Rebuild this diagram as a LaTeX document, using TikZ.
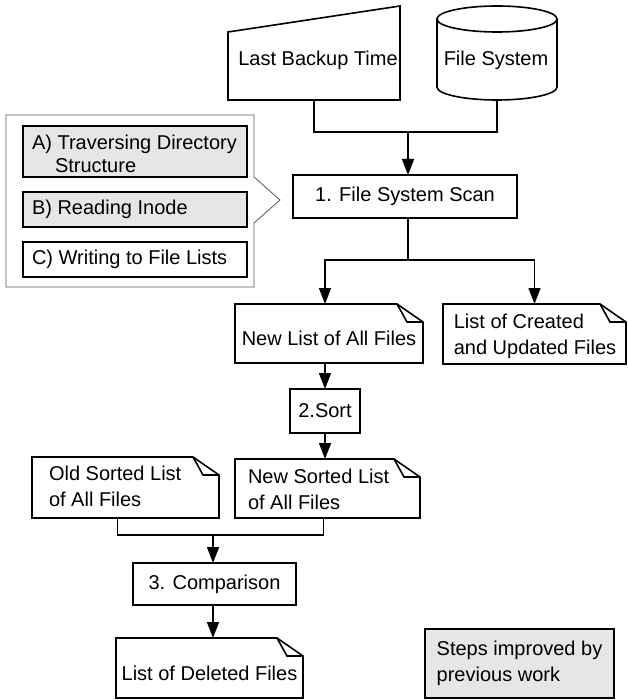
\documentclass[tikz,border=0pt]{standalone}
\usepackage{fontspec}
\setmainfont{Liberation Sans}
\usetikzlibrary{arrows.meta,calc}
\definecolor{boxgray}{HTML}{E6E6E6}
\definecolor{callgray}{HTML}{555555}
\newcommand\notedraw[1]{%
  \draw[conn] (#1.north west) -- ($(#1.north east)+(-26,0)$) -- ($(#1.north east)+(0,18)$) -- (#1.south east) -- (#1.south west) -- cycle;
  \draw[conn] ($(#1.north east)+(-26,0)$) -- ($(#1.north east)+(-16,18)$) -- ($(#1.north east)+(0,18)$);}
\begin{document}
\begin{tikzpicture}[x=1pt,y=-1pt,
  lbl/.style={font=\fontsize{20}{25.5}\selectfont, inner sep=0pt, outer sep=0pt, align=left},
  frame/.style={rectangle, inner sep=0pt, outer sep=0pt, draw=none},
  box/.style={frame, draw, line width=1.6pt, fill=white, font=\fontsize{20}{25.5}\selectfont, align=left},
  graybox/.style={box, fill=boxgray},
  conn/.style={line width=1.6pt, line join=miter},
  arr/.style={conn, -{Triangle[length=16pt,width=12pt]}}
]
\useasboundingbox (0,0) rectangle (627,700);

% ---- Inputs ----
\node[frame, minimum width=172pt, minimum height=94pt] (lbt) at (314,53) {};
\draw[conn] ($(lbt.north west)+(0,26)$) -- (lbt.north east) -- (lbt.south east) -- (lbt.south west) -- cycle;
\node[lbl] (lbt-t) at (318,60) {Last Backup Time};

\node[frame, minimum width=120pt, minimum height=94pt] (fs) at (497,53) {};
\draw[conn] ($(fs.north west)+(0,13)$) -- ($(fs.south west)+(0,-13)$)
  arc[start angle=180, end angle=360, x radius=60pt, y radius=13pt] -- ($(fs.north east)+(0,13)$);
\draw[conn] ($(fs.north)+(0,13)$) ellipse[x radius=60pt, y radius=13pt];
\node[lbl] (fs-t) at (496,60) {File System};

% ---- Step 1 ----
\node[box, minimum width=224pt, minimum height=43pt] (scan) at (405,196.5) {1. File System Scan};

% ---- Callout with sub-steps ----
\node[frame, minimum width=248pt, minimum height=172pt] (callout) at (130,201) {};
\coordinate (tip) at (280,200);
\draw[callgray, line width=0.8pt] (callout.north west) -- (callout.north east) -- ($(callout.north east)+(0,62)$) -- (tip) -- ($(callout.north east)+(0,108)$) -- (callout.south east) -- (callout.south west) -- cycle;
\node[graybox, minimum width=224pt, minimum height=51pt] (sa) at (135,151.5) {};
\node[lbl, anchor=west, font=\fontsize{20}{22.5}\selectfont] (sa-t) at (32,154) {A) Traversing Directory\\\hspace*{23pt}Structure};
\node[graybox, minimum width=224pt, minimum height=35pt] (sb) at (135,209.5) {};
\node[lbl, anchor=west] (sb-t) at (32,209) {B) Reading Inode};
\node[box, minimum width=224pt, minimum height=35pt] (sc) at (135,259.5) {};
\node[lbl, anchor=west] (sc-t) at (32,259.5) {C) Writing to File Lists};

% ---- Outputs of step 1 ----
\node[frame, minimum width=188pt, minimum height=59pt] (newlist) at (329,333.5) {};
\notedraw{newlist}
\node[lbl] (newlist-t) at (329,338) {New List of All Files};

\node[frame, minimum width=183pt, minimum height=60pt] (created) at (534.5,334) {};
\notedraw{created}
\node[lbl] (created-t) at (535,336.5) {List of Created\\and Updated Files};

% ---- Step 2 ----
\node[box, minimum width=70pt, minimum height=44pt] (sort) at (325,411) {2.Sort};

\node[frame, minimum width=187pt, minimum height=61pt] (oldsorted) at (125.5,487.5) {};
\notedraw{oldsorted}
\node[lbl, anchor=west] (oldsorted-t) at (49,486.5) {Old Sorted List\\of All Files};

\node[frame, minimum width=185pt, minimum height=59pt] (newsorted) at (327.5,488.5) {};
\notedraw{newsorted}
\node[lbl, anchor=west] (newsorted-t) at (248,489.5) {New Sorted List\\of All Files};

% ---- Step 3 ----
\node[box, minimum width=163pt, minimum height=42pt] (comp) at (214.5,584) {3. Comparison};

\node[frame, minimum width=187pt, minimum height=60pt] (deleted) at (209.5,668) {};
\notedraw{deleted}
\node[lbl] (deleted-t) at (209.5,673) {List of Deleted Files};

% ---- Legend ----
\node[graybox, minimum width=189pt, minimum height=69pt] (legend) at (519.5,663.5) {Steps improved by\\previous work};

% ---- Connectors ----
\coordinate (j1) at (408,132);
\draw[conn] (lbt.south) |- (j1) -| (fs.south);
\draw[arr] (j1) -- (j1 |- scan.north);

\coordinate (j2) at (408,260);
\draw[conn] (j2 |- scan.south) -- (j2);
\draw[arr] (j2) -| (newlist.north -| sort.north);
\draw[arr] (j2) -| (created.north);

\draw[arr] (sort.north |- newlist.south) -- (sort.north);
\draw[arr] (sort.south) -- (sort.south |- newsorted.north);

\coordinate (j3) at (213,535);
\draw[conn] ($(oldsorted.south)+(-8,0)$) |- (j3) -| ($(newsorted.south)+(-4,0)$);
\draw[arr] (j3) -- (j3 |- comp.north);
\draw[arr] (j3 |- comp.south) -- (j3 |- deleted.north);
\end{tikzpicture}
\end{document}
